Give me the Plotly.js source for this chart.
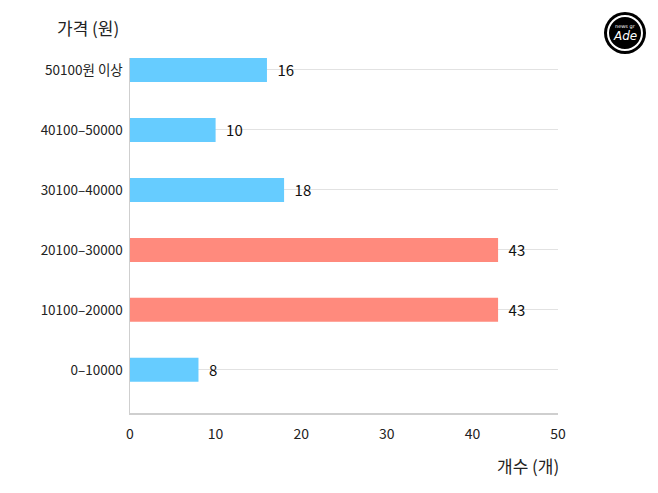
<!DOCTYPE html>
<html>
<head>
<meta charset="utf-8">
<script src="https://cdn.plot.ly/plotly-3.0.1.min.js"></script>
<style>html,body{margin:0;padding:0;background:#fff;}#chart{width:658px;height:493px;}</style>
</head>
<body>
<div id="chart"></div>
<script>
const categories = ['0–10000', '10100–20000', '20100–30000', '30100–40000', '40100–50000', '50100원 이상'];
const counts = [8, 43, 43, 18, 10, 16];
const barColors = ['#66CCFF', '#FF8A7D', '#FF8A7D', '#66CCFF', '#66CCFF', '#66CCFF'];
const xTicks = [0, 10, 20, 30, 40, 50];

const FONT = '"Noto Sans CJK KR", "Noto Sans", sans-serif';
const L = 130, R = 558, T = 58, B = 413;
const pw = R - L, ph = B - T;
function px(x){ return (x - L) / pw; }
function py(y){ return (B - y) / ph; }

const trace = {
  type: 'bar',
  orientation: 'h',
  y: categories,
  x: counts,
  width: 0.4,
  marker: {color: barColors, line: {width: 0}},
  text: counts.map(v => '\u2002' + v),
  textposition: 'outside',
  cliponaxis: false,
  textfont: {family: FONT, size: 15, color: '#111'},
  hoverinfo: 'none'
};

const cx = 625, cy = 33;
const layout = {
  width: 658, height: 493,
  margin: {l: L, r: 658 - R, t: T, b: 493 - B, pad: 0},
  paper_bgcolor: '#fff', plot_bgcolor: '#fff',
  showlegend: false,
  font: {family: FONT, color: '#222'},
  title: {text: '가격 (원)', x: 57/658, xanchor: 'left', y: 1 - 29/493, yanchor: 'middle',
          font: {family: FONT, size: 17, color: '#222'}},
  xaxis: {
    range: [0, 50], tickvals: xTicks, ticktext: xTicks.map(String),
    showgrid: false, zeroline: false,
    showline: true, linecolor: '#cfcfcf', linewidth: 1.5,
    ticks: 'outside', ticklen: 8, tickcolor: 'rgba(0,0,0,0)',
    tickfont: {family: FONT, size: 14, color: '#222'},
    fixedrange: true
  },
  yaxis: {
    type: 'category', range: [-0.72, 5.2],
    showgrid: true, gridcolor: '#e2e2e2', gridwidth: 1,
    zeroline: false,
    showline: true, linecolor: '#cfcfcf', linewidth: 1.5,
    ticks: 'outside', ticklen: 3, tickcolor: 'rgba(0,0,0,0)',
    tickfont: {family: FONT, size: 13.5, color: '#222'},
    fixedrange: true
  },
  annotations: [
    {text: '개수 (개)', xref: 'paper', yref: 'paper', x: px(561), y: py(465),
     xanchor: 'right', yanchor: 'middle', showarrow: false,
     font: {family: FONT, size: 17, color: '#222'}},
    {text: 'news gr', xref: 'paper', yref: 'paper', x: px(cx), y: py(cy - 6),
     xanchor: 'center', yanchor: 'middle', showarrow: false,
     font: {family: 'DejaVu Sans', size: 5, color: '#fff'}},
    {text: '<i>Ade</i>', xref: 'paper', yref: 'paper', x: px(cx), y: py(cy + 3),
     xanchor: 'center', yanchor: 'middle', showarrow: false,
     font: {family: 'DejaVu Sans', size: 12, color: '#fff'}}
  ],
  shapes: [
    {type: 'circle', xref: 'paper', yref: 'paper',
     x0: px(cx - 21), x1: px(cx + 21), y0: py(cy + 21), y1: py(cy - 21),
     fillcolor: '#000', line: {width: 0}},
    {type: 'circle', xref: 'paper', yref: 'paper',
     x0: px(cx - 17), x1: px(cx + 17), y0: py(cy + 17), y1: py(cy - 17),
     fillcolor: 'rgba(0,0,0,0)', line: {color: '#fff', width: 2}}
  ]
};

Plotly.newPlot('chart', [trace], layout, {displayModeBar: false, staticPlot: true});
</script>
</body>
</html>
